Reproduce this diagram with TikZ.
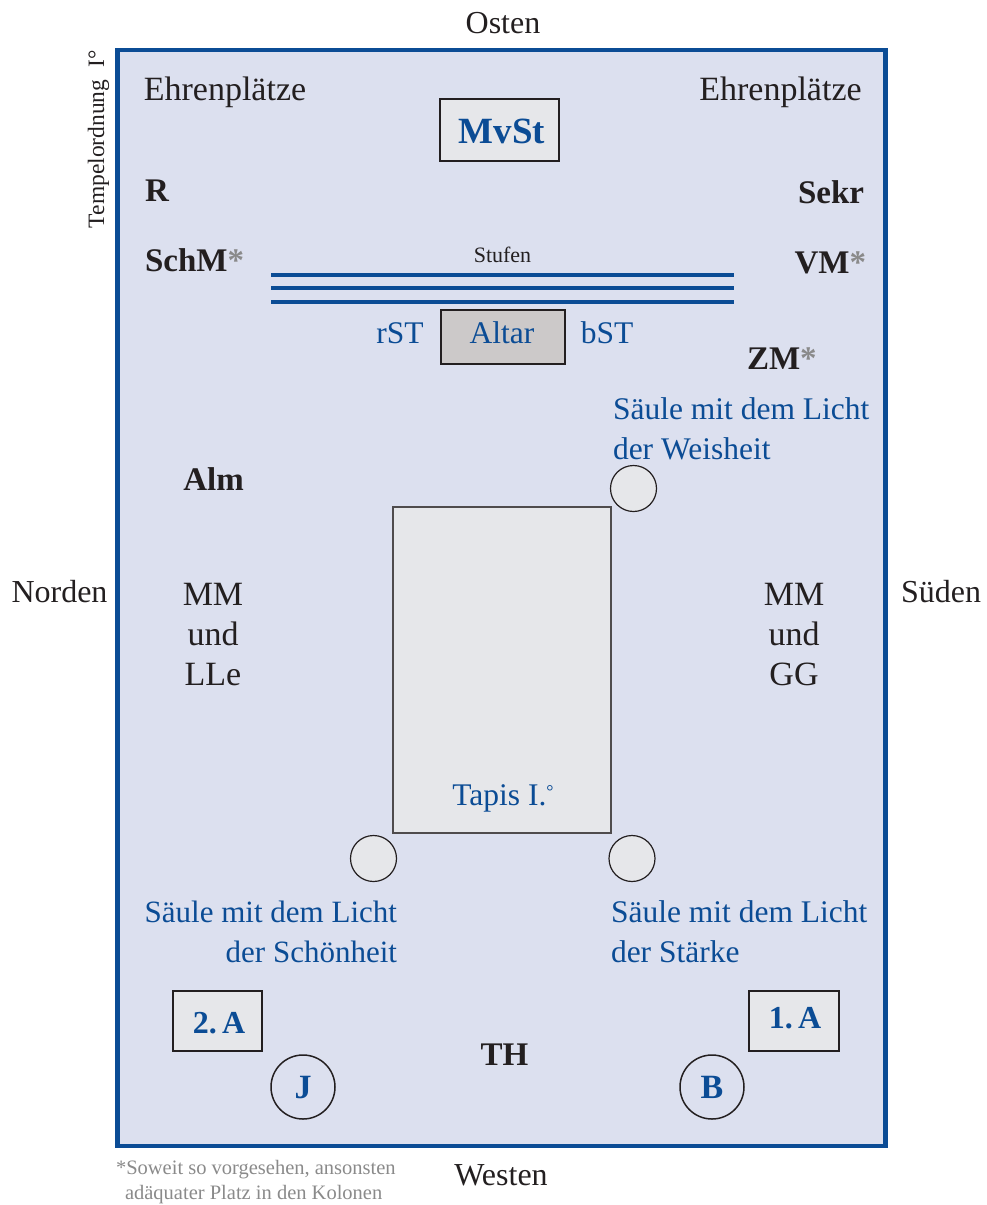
\documentclass[tikz,border=0pt]{standalone}
\usepackage{fontspec}
\setmainfont{Liberation Serif}
\definecolor{bg}{HTML}{DCE0EF}
\definecolor{frameblue}{HTML}{0B4C95}
\definecolor{boxfill}{HTML}{E6E7EA}
\definecolor{altarfill}{HTML}{CCC9C9}
\definecolor{txtdark}{HTML}{231F20}
\definecolor{astgray}{HTML}{8A8A8A}
\newcommand{\fs}[1]{\fontsize{#1}{1.25\dimexpr#1pt\relax}\selectfont}
\newcommand{\grast}{\textcolor{astgray}{*}}
\begin{document}
\begin{tikzpicture}[x=1pt,y=-1pt,
  every node/.style={inner sep=0pt, outer sep=0pt, text=txtdark},
  compass/.style={font=\fs{32}, anchor=base},
  plain/.style={font=\fs{34}, anchor=base},
  role/.style={font=\fs{33}\bfseries, anchor=base},
  bluetxt/.style={font=\fs{31.5}, text=frameblue, anchor=base},
  officebox/.style={draw=txtdark, line width=1.8pt, fill=boxfill},
  officetxt/.style={font=\fs{32}\bfseries, text=frameblue, anchor=base},
  pillar/.style={circle, draw=txtdark, line width=1.2pt, fill=boxfill, minimum size=46pt},
  portal/.style={circle, draw=txtdark, line width=1.5pt, minimum size=64pt},
  portaltxt/.style={font=\fs{34}\bfseries, text=frameblue, anchor=base},
  stair/.style={draw=frameblue, line width=4pt},
  note/.style={font=\fs{20.5}, text=astgray, anchor=base west}
]
\useasboundingbox (0,0) rectangle (986,1205);
% hall
\draw[fill=bg, draw=frameblue, line width=4.5pt] (117.5,50) rectangle (885.5,1146);
% compass
\node[compass] (osten) at (503,33) {Osten};
\node[compass] (westen) at (501,1185) {Westen};
\node[compass] (norden) at (59.5,602) {Norden};
\node[compass] (sueden) at (941,602) {Süden};
\node[font=\fs{23.5}, rotate=90, anchor=base west] (tempel) at (104,228) {Tempelordnung\hspace{6pt} I°};
% honour seats
\node[plain] (ehrenL) at (225,100) {Ehrenplätze};
\node[plain] (ehrenR) at (780.5,100) {Ehrenplätze};
% MvSt
\node[officebox, minimum width=119pt, minimum height=62pt] (mvst) at (499.5,130) {};
\node[officetxt, font=\fs{37}\bfseries] (mvsttxt) at (502,143) {MvSt};
\node[role, anchor=base west] (r) at (145,201) {R};
\node[role, anchor=base east] (sekr) at (864,203) {Sekr};
\node[role, anchor=base west] (schm) at (145,271) {SchM\grast};
\node[role, anchor=base east] (vm) at (866,273) {VM\grast};
\node[role, anchor=base west] (zm) at (747,369) {ZM\grast};
% steps
\node[font=\fs{22}, anchor=base] (stufen) at (502.5,262) {Stufen};
\coordinate (s1a) at (271,275); \coordinate (s1b) at (734,275);
\coordinate (s2a) at (271,288); \coordinate (s2b) at (734,288);
\coordinate (s3a) at (271,301.5); \coordinate (s3b) at (734,301.5);
\draw[stair] (s1a) -- (s1b);
\draw[stair] (s2a) -- (s2b);
\draw[stair] (s3a) -- (s3b);
% altar
\node[draw=txtdark, line width=1.5pt, fill=altarfill, minimum width=124pt, minimum height=54pt] (altar) at (503,337) {};
\node[bluetxt] (altartxt) at (502,343) {Altar};
\node[bluetxt] (rst) at (400,343) {rST};
\node[bluetxt] (bst) at (607,343) {bST};
% Weisheit
\node[bluetxt, anchor=base west] (weish1) at (613,419) {Säule mit dem Licht};
\node[bluetxt, anchor=base west] (weish2) at (613,459) {der Weisheit};
\node[pillar] (pw) at (633.5,488.5) {};
\node[role] (alm) at (213.5,490) {Alm};
% Tapis
\node[draw=txtdark!80, line width=1.2pt, fill=boxfill, minimum width=218pt, minimum height=326pt] (tapis) at (502,670) {};
\node[bluetxt] (tapistxt) at (503,805) {Tapis I.\raisebox{0.55ex}{\fs{18}°}};
% columns text
\node[plain] (mmL1) at (213,605) {MM};
\node[plain] (mmL2) at (213,645) {und};
\node[plain] (mmL3) at (213,685) {LLe};
\node[plain] (mmR1) at (794,605) {MM};
\node[plain] (mmR2) at (794,645) {und};
\node[plain] (mmR3) at (794,685) {GG};
\node[pillar] (ps) at (373.5,858.5) {};
\node[pillar] (pst) at (632,858.5) {};
\node[bluetxt, font=\fs{31}, anchor=base east] (schoen1) at (397,922) {Säule mit dem Licht};
\node[bluetxt, font=\fs{31}, anchor=base east] (schoen2) at (397,962) {der Schönheit};
\node[bluetxt, anchor=base west] (staerke1) at (611,922) {Säule mit dem Licht};
\node[bluetxt, anchor=base west] (staerke2) at (611,962) {der Stärke};
% west
\node[officebox, minimum width=89pt, minimum height=60pt] (a2) at (217.5,1021) {};
\node[officetxt] (a2txt) at (219,1033) {2.\,A};
\node[officebox, minimum width=90pt, minimum height=60pt] (a1) at (794,1021) {};
\node[officetxt] (a1txt) at (795,1028) {1.\,A};
\node[role] (th) at (504.5,1065) {TH};
\node[portal] (j) at (303,1087) {};
\node[portaltxt] (jtxt) at (303,1098) {J};
\node[portal] (b) at (712,1087) {};
\node[portaltxt] (btxt) at (712,1098) {B};
% footnote
\node[note] (fn1) at (116,1174) {*Soweit so vorgesehen, ansonsten};
\node[note] (fn2) at (125,1199) {adäquater Platz in den Kolonen};
\end{tikzpicture}
\end{document}
